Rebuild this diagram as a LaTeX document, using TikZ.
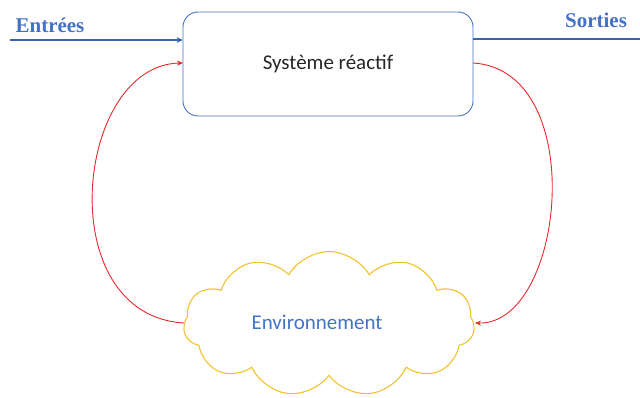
\documentclass[tikz,border=0pt]{standalone}
\usepackage{fontspec}
\setmainfont{Carlito}
\newfontfamily\serifbold{Liberation Serif}
\usetikzlibrary{shapes.symbols,arrows.meta}
\definecolor{offblue}{HTML}{4472C4}
\definecolor{lineblue}{HTML}{3A62AD}
\definecolor{cloudyellow}{HTML}{F2C230}
\definecolor{arrowred}{HTML}{E8282B}
\tikzset{
  sysbox/.style={draw=offblue, line width=0.9pt, rounded corners=15pt, minimum width=290pt, minimum height=104pt, inner sep=0pt, font=\fontsize{21}{24}\selectfont, text=black!85},
  envcloud/.style={draw=cloudyellow, line width=1.1pt, cloud, cloud puffs=11, cloud puff arc=120, aspect=2.1, minimum width=291pt, minimum height=145pt, inner sep=0pt},
  iolabel/.style={font=\serifbold\bfseries\fontsize{21}{24}\selectfont, text=offblue, inner sep=0pt},
  ioline/.style={draw=lineblue, line width=2.8pt},
  fb/.style={draw=arrowred, line width=0.9pt, -{Stealth[length=6pt,width=5pt]}}
}
\begin{document}
\begin{tikzpicture}[x=1pt,y=-1pt]
\useasboundingbox (0,0) rectangle (640,398);
\node[sysbox] (sys) at (328,64) {Système réactif};
\node[envcloud] (env) at (329,324) {};
\node[font=\fontsize{21}{24}\selectfont, text=offblue] (envt) at (317,322) {Environnement};
\node[iolabel] (in) at (50,25) {Entrées};
\node[iolabel] (out) at (596,20) {Sorties};
\coordinate (inS) at (10,40);
\coordinate (outE) at (640,39);
\draw[ioline, -{Stealth[length=6pt,width=6pt]}] (inS) -- (sys.west |- inS);
\draw[ioline] (sys.east |- outE) -- (outE);
\coordinate (envL) at (184,323);
\coordinate (envR) at (475,323);
\coordinate (sysL) at (183,63);
\coordinate (sysR) at (473,63);
\draw[fb] (envL) .. controls (50,315) and (75,65) .. (sysL);
\draw[fb] (sysR) .. controls (590,70) and (565,325) .. (envR);
\end{tikzpicture}
\end{document}
